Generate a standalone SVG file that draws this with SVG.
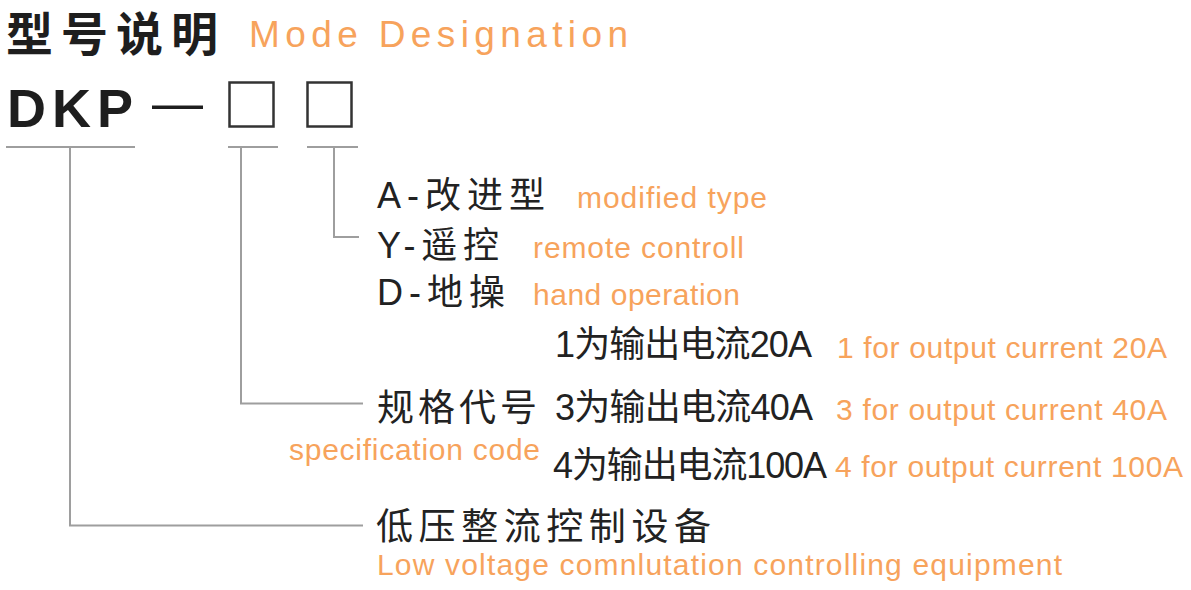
<svg xmlns="http://www.w3.org/2000/svg" width="1191" height="590" viewBox="0 0 1191 590">
<style>
.bk{fill:#222;font-family:"Liberation Sans","Noto Sans CJK SC",sans-serif;font-size:36px}
.cj{fill:#222;font-family:"Liberation Sans","Noto Sans CJK SC",sans-serif;font-size:37px}
.or{fill:#F7A35C;font-family:"Liberation Sans",sans-serif;font-size:30px}
.ln{fill:none;stroke:#9E9E9E;stroke-width:2}
.bx{fill:none;stroke:#333;stroke-width:2.5}
</style>
<rect width="1191" height="590" fill="#fff"/>
<g id="title">
<text x="6" y="51" textLength="212" lengthAdjust="spacing" style="fill:#1e1e1e;font-family:'Liberation Sans','Noto Sans CJK SC',sans-serif;font-size:47px;font-weight:bold">型号说明</text>
<text x="249" y="47" textLength="379" lengthAdjust="spacing" style="fill:#F7A35C;font-family:'Liberation Sans',sans-serif;font-size:37px">Mode Designation</text>
</g>
<g id="model">
<text x="7" y="127" textLength="126" lengthAdjust="spacing" style="fill:#1e1e1e;font-family:'Liberation Sans',sans-serif;font-size:54px;font-weight:bold">DKP</text>
<text x="152" y="120" textLength="51" lengthAdjust="spacingAndGlyphs" style="fill:#1e1e1e;font-family:'Liberation Sans',sans-serif;font-size:51px">—</text>
<rect class="bx" x="229.5" y="82.5" width="44" height="44"/>
<rect class="bx" x="307.5" y="82.5" width="44" height="44"/>
</g>
<g id="connectors">
<path class="ln" d="M6 147H135M228 147H278M307 147H358"/>
<path class="ln" d="M70 147V525.5H363"/>
<path class="ln" d="M241 147V403.5H363"/>
<path class="ln" d="M334 147V237H359"/>
</g>
<g id="type">
<text class="bk" x="377" y="208" textLength="168" lengthAdjust="spacing">A-改进型</text>
<text class="or" x="577" y="208" textLength="190" lengthAdjust="spacing">modified type</text>
<text class="bk" x="377" y="258" textLength="122" lengthAdjust="spacing">Y-遥控</text>
<text class="or" x="533" y="258" textLength="211" lengthAdjust="spacing">remote controll</text>
<text class="bk" x="377" y="305" textLength="128" lengthAdjust="spacing">D-地操</text>
<text class="or" x="533" y="305" textLength="207" lengthAdjust="spacing">hand operation</text>
</g>
<g id="spec">
<text class="bk" x="555" y="357" textLength="257" lengthAdjust="spacing">1为输出电流20A</text>
<text class="or" x="837" y="358" textLength="330" lengthAdjust="spacing">1 for output current 20A</text>
<text class="cj" x="377" y="421" textLength="160" lengthAdjust="spacing">规格代号</text>
<text class="bk" x="555" y="420" textLength="258" lengthAdjust="spacing">3为输出电流40A</text>
<text class="or" x="836" y="420" textLength="331" lengthAdjust="spacing">3 for output current 40A</text>
<text class="or" x="289" y="460" textLength="251" lengthAdjust="spacing">specification code</text>
<text class="bk" x="553" y="478" textLength="274" lengthAdjust="spacing">4为输出电流100A</text>
<text class="or" x="835" y="477" textLength="348" lengthAdjust="spacing">4 for output current 100A</text>
</g>
<g id="equipment">
<text class="cj" x="376" y="540" textLength="335" lengthAdjust="spacing">低压整流控制设备</text>
<text class="or" x="377" y="575" textLength="685" lengthAdjust="spacing">Low voltage comnlutation controlling equipment</text>
</g>
</svg>
